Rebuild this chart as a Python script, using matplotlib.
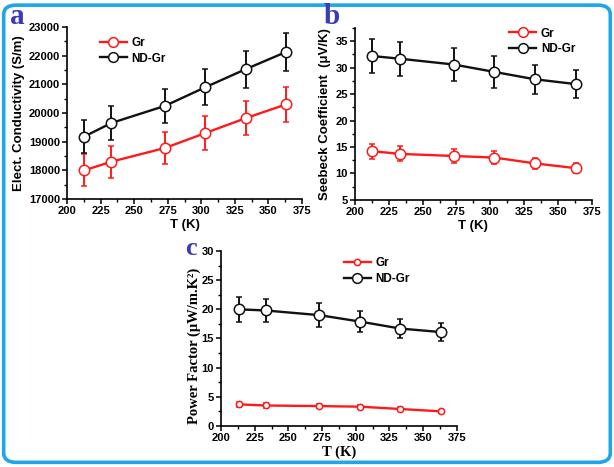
import matplotlib
matplotlib.use("Agg")
import matplotlib.pyplot as plt
from matplotlib.patches import FancyBboxPatch
from matplotlib.lines import Line2D
from matplotlib.ticker import MultipleLocator

T = [213, 233, 273, 303, 333, 363]

cond_gr = [18000, 18300, 18780, 19300, 19820, 20300]
cond_gr_err = [560, 560, 570, 580, 600, 620]
cond_nd = [19180, 19650, 20250, 20900, 21530, 22130]
cond_nd_err = [580, 580, 600, 620, 650, 670]

seeb_gr = [14.2, 13.7, 13.3, 13.0, 11.9, 11.0]
seeb_gr_err = [1.4, 1.4, 1.3, 1.3, 1.1, 1.0]
seeb_nd = [32.2, 31.7, 30.6, 29.2, 27.8, 26.9]
seeb_nd_err = [3.3, 3.2, 3.1, 3.0, 2.8, 2.7]

pf_gr = [3.7, 3.5, 3.4, 3.3, 2.9, 2.5]
pf_gr_err = [0.4, 0.35, 0.35, 0.3, 0.3, 0.25]
pf_nd = [20.0, 19.8, 19.0, 17.9, 16.7, 16.1]
pf_nd_err = [2.1, 1.9, 2.0, 1.8, 1.6, 1.6]

series_labels = ["Gr", "ND-Gr"]
xticks = [200, 225, 250, 275, 300, 325, 350, 375]

SANS = "Liberation Sans"
SERIF = "Liberation Serif"
RED = "#ff1a1a"
BLACK = "#111111"
LETTER = "#3b3bb8"

fig = plt.figure(figsize=(6.14, 4.67), dpi=100)

# rounded blue border
border = FancyBboxPatch((0.006, 0.01), 0.988, 0.979,
                        boxstyle="round,pad=0,rounding_size=0.02",
                        transform=fig.transFigure, fill=False,
                        edgecolor="#1ea5ea", linewidth=2.6, zorder=0)
fig.patches.append(border)


def style_axes(ax, ylim, ymaj, ymin, font, xlabel, ylabel, lab_family):
    ax.set_xlim(200, 375)
    ax.set_ylim(*ylim)
    ax.set_xticks(xticks)
    ax.xaxis.set_minor_locator(MultipleLocator(12.5))
    ax.yaxis.set_major_locator(MultipleLocator(ymaj))
    ax.yaxis.set_minor_locator(MultipleLocator(ymin))
    for s in ["top", "right"]:
        ax.spines[s].set_visible(False)
    for s in ["left", "bottom"]:
        ax.spines[s].set_linewidth(1.2)
    ax.tick_params(which="major", direction="out", length=3.5, width=1.1,
                   labelsize=8, pad=1.5)
    ax.tick_params(which="minor", direction="out", length=2, width=1.0)
    for lab in ax.get_xticklabels() + ax.get_yticklabels():
        lab.set_fontfamily(SANS)
        lab.set_fontweight("bold")
    ax.set_xlabel(xlabel, fontfamily=lab_family, fontweight="bold",
                  fontsize=font, labelpad=2)
    ax.set_ylabel(ylabel, fontfamily=lab_family, fontweight="bold",
                  fontsize=font, labelpad=3)


def plot_series(ax, y, yerr, color, ms):
    ax.errorbar(T, y, yerr=yerr, color=color, lw=1.7, marker="o", ms=ms,
                mfc="white", mec=color, mew=1.1, ecolor=color, elinewidth=1.4,
                capsize=2.5, capthick=1.4, zorder=3)


def legend(ax, loc_xy, ms_gr, ms_nd):
    handles = [
        Line2D([], [], color=RED, lw=1.7, marker="o", ms=ms_gr, mfc="white",
               mec=RED, mew=1.1),
        Line2D([], [], color=BLACK, lw=1.7, marker="o", ms=ms_nd, mfc="white",
               mec=BLACK, mew=1.1),
    ]
    ax.legend(handles, series_labels, loc="upper left", bbox_to_anchor=loc_xy,
              frameon=False, prop={"family": SANS, "weight": "bold", "size": 8.5},
              handlelength=2.3, handletextpad=0.4, labelspacing=0.3,
              borderaxespad=0)


# panel a
axa = fig.add_axes([0.109, 0.574, 0.383, 0.368])
plot_series(axa, cond_gr, cond_gr_err, RED, 7.5)
plot_series(axa, cond_nd, cond_nd_err, BLACK, 7.5)
style_axes(axa, (17000, 23000), 1000, 500, 9.5, "T (K)",
           "Elect. Conductivity (S/m)", SANS)
legend(axa, (0.12, 0.97), 7, 7)
fig.text(0.017, 0.948, "a", color=LETTER, fontfamily=SERIF,
         fontweight="bold", fontsize=21, va="baseline", ha="left")

# panel b
axb = fig.add_axes([0.578, 0.572, 0.386, 0.368])
plot_series(axb, seeb_gr, seeb_gr_err, RED, 7.5)
plot_series(axb, seeb_nd, seeb_nd_err, BLACK, 7.5)
style_axes(axb, (5, 37.5), 5, 2.5, 9.5, "T (K)",
           "Seebeck Coefficient  (\u03bcV/K)", SANS)
legend(axb, (0.63, 1.03), 7, 7)
fig.text(0.527, 0.948, "b", color=LETTER, fontfamily=SERIF,
         fontweight="bold", fontsize=21, va="baseline", ha="left")

# panel c
axc = fig.add_axes([0.360, 0.088, 0.384, 0.3745])
plot_series(axc, pf_gr, pf_gr_err, RED, 4.5)
plot_series(axc, pf_nd, pf_nd_err, BLACK, 7.5)
style_axes(axc, (0, 30), 5, 2.5, 10.5, "T (K)",
           "Power Factor (\u03bcW/m.K\u00b2)", SERIF)
axc.yaxis.set_label_coords(-0.085, 0.46)
legend(axc, (0.5, 0.99), 4.5, 7)
fig.text(0.301, 0.454, "c", color=LETTER, fontfamily=SERIF,
         fontweight="bold", fontsize=19, va="baseline", ha="left")

fig.savefig("out.png", dpi=100)
